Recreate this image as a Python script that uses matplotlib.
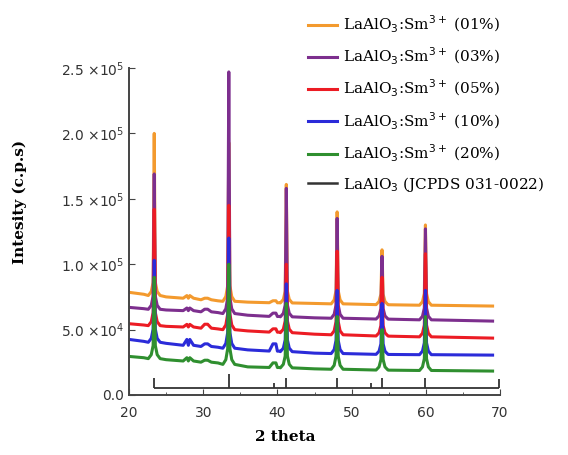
import matplotlib
matplotlib.use("Agg")
import matplotlib.pyplot as plt
import numpy as np

# ---------------- data ----------------
series_labels = ["01%", "03%", "05%", "10%", "20%"]
series_colors = ["#f39a2e", "#7d2f8e", "#ec1c24", "#2b2bd9", "#2f8f2f"]

# main reflection positions (2 theta) and peak tops of every sample
peak_pos = [23.4, 33.45, 41.2, 48.05, 54.1, 59.95]
peak_top = {
    "01%": [200000, 193000, 161000, 140000, 111000, 130000],
    "03%": [169000, 247000, 158000, 135000, 106000, 127000],
    "05%": [142000, 145000, 100000, 110000, 90000, 108000],
    "10%": [103000, 120000, 85000, 80000, 70000, 80000],
    "20%": [90000, 100000, 70000, 60000, 50000, 60000],
}
# shoulder (broad foot) height above background at each reflection
peak_foot = [10000, 12000, 9000, 10000, 8000, 9000]

# weak reflections: positions and height above background
minor_pos = [28.0, 30.4, 39.6]
minor_h = {
    "01%": [2000, 1200, 1500],
    "03%": [2000, 2000, 2500],
    "05%": [2000, 3000, 2500],
    "10%": [4500, 2000, 5500],
    "20%": [2500, 1500, 3500],
}

# background level of every sample
bg_x = [20, 22, 25, 28, 32, 36, 40, 45, 55, 69]
bg = {
    "01%": [78500, 77000, 75000, 74000, 72000, 71000, 70500, 70000, 69000, 68000],
    "03%": [67000, 66000, 65000, 64500, 63000, 61000, 60000, 59000, 58000, 56500],
    "05%": [54500, 53500, 52500, 52000, 50500, 49000, 48000, 46500, 45000, 43500],
    "10%": [42500, 41000, 39500, 38000, 36500, 34500, 33500, 32000, 31000, 30500],
    "20%": [29500, 28500, 27000, 26000, 24500, 21500, 21000, 20000, 19000, 18300],
}

# JCPDS 031-0022 reference sticks
ref_pos = [23.4, 33.45, 39.6, 41.2, 48.05, 52.6, 54.1, 59.95, 69.8]
ref_top = [13000, 16000, 9000, 13000, 13000, 9000, 13000, 13000, 12000]
ref_base = 5300

y_ticks = [0, 50000, 100000, 150000, 200000, 250000]
y_ticklabels = ["0.0", r"5.0 $\times$10$^4$", r"1.0 $\times$10$^5$",
                r"1.5 $\times$10$^5$", r"2.0 $\times$10$^5$", r"2.5 $\times$10$^5$"]
x_ticks = [20, 30, 40, 50, 60, 70]

# ---------------- figure ----------------
plt.rcParams["mathtext.fontset"] = "dejavusans"
fig = plt.figure(figsize=(5.68, 4.55), dpi=100)
ax = fig.add_axes([129 / 568, 1 - 395 / 455, (500 - 129) / 568, (395 - 68) / 455])


def build_curve(name):
    xs = list(bg_x)
    ys = list(bg[name])
    base_at = lambda x: float(np.interp(x, bg_x, bg[name]))
    for p, top, foot in zip(peak_pos, peak_top[name], peak_foot):
        b = base_at(p)
        for dx, val in [(-0.8, b), (-0.4, b + foot * 0.3), (-0.15, b + foot),
                        (0.0, top), (0.15, b + foot), (0.4, b + foot * 0.3), (0.8, b)]:
            xs.append(p + dx)
            ys.append(val)
    for p, h in zip(minor_pos, minor_h[name]):
        b = base_at(p)
        for dx, val in [(-0.7, b), (-0.2, b + h), (0.2, b + h), (0.7, b)]:
            xs.append(p + dx)
            ys.append(val)
    order = np.argsort(xs)
    return np.array(xs)[order], np.array(ys)[order]


for name, col in zip(series_labels, series_colors):
    x, y = build_curve(name)
    ax.plot(x, y, color=col, lw=2.2, solid_joinstyle="round",
            label=r"LaAlO$_3$:Sm$^{3+}$ (" + name + ")")

# reference pattern
ax.hlines(ref_base, ref_pos[0], ref_pos[-1], color="#333333", lw=1.3)
ax.vlines(ref_pos, ref_base, ref_top, color="#333333", lw=1.3)
ax.plot([], [], color="#333333", lw=1.8, label="LaAlO$_3$ (JCPDS 031-0022)")

ax.set_xlim(20, 70)
ax.set_ylim(0, 250000)
ax.set_xticks(x_ticks)
ax.set_xticks([25, 35, 45, 55, 65], minor=True)
ax.set_yticks(y_ticks)
ax.set_yticklabels(y_ticklabels)
for s in ["top", "right"]:
    ax.spines[s].set_visible(False)
for s in ["left", "bottom"]:
    ax.spines[s].set_color("#444444")
    ax.spines[s].set_linewidth(1.4)
ax.tick_params(axis="both", which="both", direction="in", color="#444444")
ax.tick_params(axis="both", which="major", length=4, labelsize=10, labelcolor="#333333")
ax.tick_params(axis="x", which="minor", length=2)
ax.tick_params(axis="x", pad=8)

fig.text(20 / 568, 1 - 202 / 455, "Intesity (c.p.s)", rotation=90, ha="center",
         va="center", family="DejaVu Serif", weight="bold", fontsize=11)
fig.text(285 / 568, 1 - 437 / 455, "2 theta", ha="center", va="center",
         family="DejaVu Serif", weight="bold", fontsize=11)

leg = fig.legend(loc="upper left", bbox_to_anchor=(302 / 568, 1 - 8 / 455),
                 frameon=False, prop={"family": "DejaVu Serif", "size": 11},
                 handlelength=1.9, handletextpad=0.4, labelspacing=0.72,
                 borderaxespad=0)

fig.savefig("out.png", dpi=100)
